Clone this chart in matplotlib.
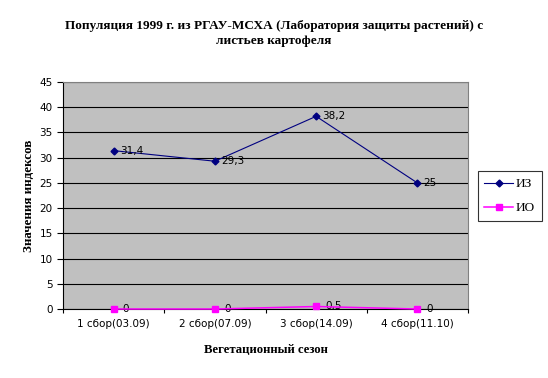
import numpy as np
import matplotlib.pyplot as plt

categories = ["1 сбор(03.09)", "2 сбор(07.09)", "3 сбор(14.09)", "4 сбор(11.10)"]
iz_values = [31.4, 29.3, 38.2, 25]
io_values = [0, 0, 0.5, 0]
iz_labels = ["31,4", "29,3", "38,2", "25"]
io_labels = ["0", "0", "0,5", "0"]

fig = plt.figure(figsize=(5.48, 3.78), dpi=100)
ax = fig.add_axes([0.115, 0.1825, 0.739, 0.6005])
ax.set_facecolor("#c0c0c0")

x = np.arange(len(categories))
ax.plot(x, iz_values, color="#000080", marker="D", markersize=3.5, linewidth=0.8, label="ИЗ")
ax.plot(x, io_values, color="#ff00ff", marker="s", markersize=4.5, linewidth=1.1, label="ИО",
        clip_on=False, zorder=5)

for xi, v, t in zip(x, iz_values, iz_labels):
    ax.text(xi + 0.06, v, t, fontsize=7.5, va="center", ha="left")
for xi, v, t in zip(x, io_values, io_labels):
    ax.text(xi + 0.09, v, t, fontsize=7.5, va="center", ha="left")

ax.set_xlim(-0.5, 3.5)
ax.set_ylim(0, 45)
ax.set_yticks(np.arange(0, 46, 5))
ax.yaxis.grid(True, color="black", linewidth=0.8)
ax.set_axisbelow(True)
ax.set_xticks(np.arange(-0.5, 4, 1))
ax.set_xticklabels([])
ax.set_xticks(x, minor=True)
ax.set_xticklabels(categories, minor=True)
ax.tick_params(axis="x", which="minor", length=0, labelsize=7.5, pad=7)
ax.tick_params(axis="x", which="major", length=3, direction="out")
ax.tick_params(axis="y", labelsize=7.5, length=4, direction="out")
for s in ["top", "right"]:
    ax.spines[s].set_color("#808080")
ax.spines["left"].set_color("black")
ax.spines["bottom"].set_color("black")

serif = "Liberation Serif"
fig.text(0.5, 0.911, "Популяция 1999 г. из РГАУ-МСХА (Лаборатория защиты растений) с\nлистьев картофеля",
         ha="center", va="center", fontsize=9.5, fontweight="bold", family=serif, linespacing=1.3)
ax.set_ylabel("Значения индексов", fontsize=9.4, fontweight="bold", family=serif, labelpad=3)
ax.set_xlabel("Вегетационный сезон", fontsize=9.2, fontweight="bold", family=serif, labelpad=11)

leg = fig.legend(loc="center", bbox_to_anchor=(0.93, 0.481), fancybox=False, edgecolor="black",
                 prop={"family": serif, "size": 9.5}, handlelength=2.2, borderpad=0.5, labelspacing=0.9,
                 handletextpad=0.2, borderaxespad=0)
leg.get_frame().set_linewidth(0.8)

fig.savefig("out.png", dpi=100)
